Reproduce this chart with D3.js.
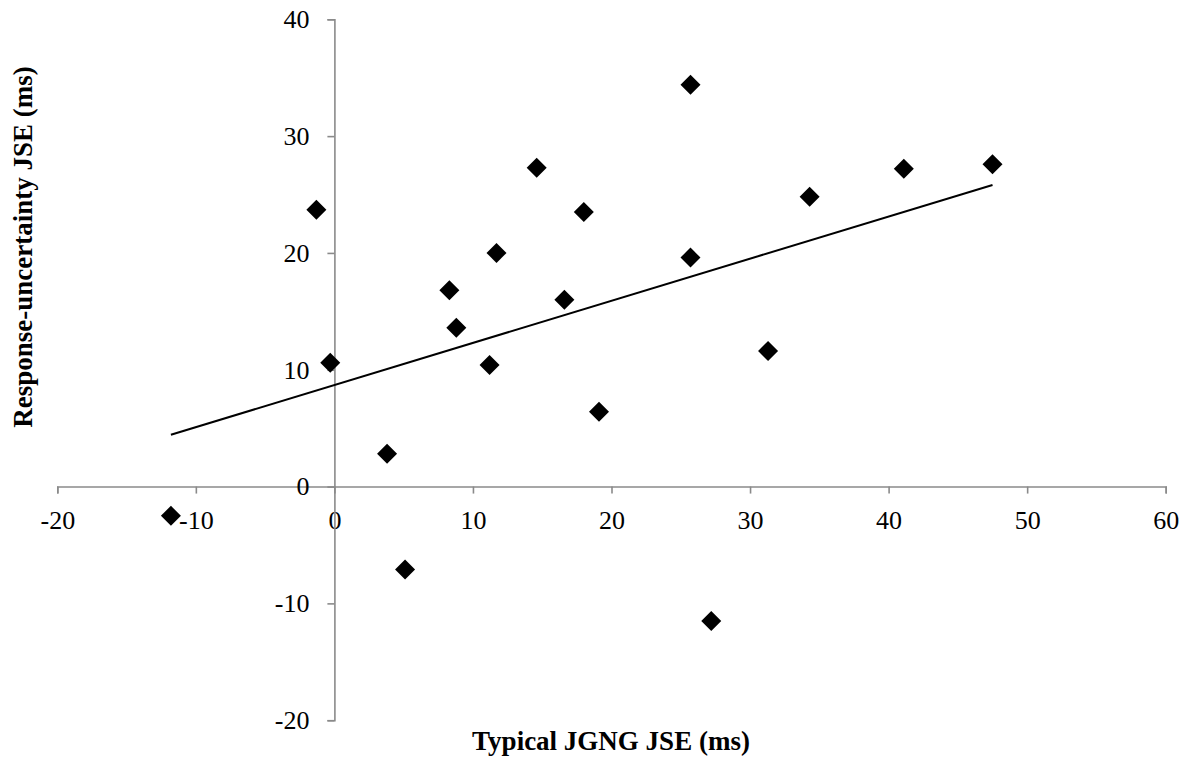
<!DOCTYPE html>
<html lang="en">
<head>
    <meta charset="UTF-8">
    <title>JSE scatter</title>
    <script src="https://d3js.org/d3.v7.min.js"></script>
    <style>
        body { margin: 0; background: #fff; }
        text { font-family: "Liberation Serif", "Times New Roman", serif; }
    </style>
</head>
<body>
    <div id="my_dataviz"></div>

    <script>

        // data
        const typicalJSE = [-11.8, -1.3, -0.3, 3.8, 5.1, 8.3, 8.8, 11.2, 11.7, 14.6,
                            16.6, 18.0, 19.1, 25.7, 25.7, 27.2, 31.3, 34.3, 41.1, 47.5];
        const uncertaintyJSE = [-2.5, 23.7, 10.6, 2.8, -7.1, 16.8, 13.6, 10.4, 20.0, 27.3,
                                16.0, 23.5, 6.4, 34.4, 19.6, -11.5, 11.6, 24.8, 27.2, 27.6];
        const xTicks = [-20, -10, 0, 10, 20, 30, 40, 50, 60];
        const yTicks = [-20, -10, 0, 10, 20, 30, 40];

        const width = 1189, height = 763;
        const axisColor = "#8a8a8a";

        const svg = d3.select("#my_dataviz")
            .append("svg")
            .attr("width", width)
            .attr("height", height);

        const x = d3.scaleLinear().domain([-20, 60]).range([57.3, 1165.7]);
        const y = d3.scaleLinear().domain([-20, 40]).range([720.2, 19.3]);

        // X axis (crosses at y = 0)
        const gx = svg.append("g")
            .attr("transform", `translate(0,${y(0)})`)
            .call(d3.axisBottom(x).tickValues(xTicks).tickSize(7).tickFormat(d => String(d)));

        // Y axis (crosses at x = 0)
        const gy = svg.append("g")
            .attr("transform", `translate(${x(0)},0)`)
            .call(d3.axisLeft(y).tickValues(yTicks).tickSize(7).tickPadding(18).tickFormat(d => String(d)));

        [gx, gy].forEach(g => {
            g.select(".domain").attr("stroke", axisColor).attr("stroke-width", 1.6);
            g.selectAll(".tick line").attr("stroke", axisColor).attr("stroke-width", 1.6);
            g.selectAll(".tick text")
                .attr("fill", "#000")
                .style("font-family", "'Liberation Serif', serif")
                .style("font-size", "26px");
        });
        gx.selectAll(".tick text").attr("y", 42).attr("dy", 0);

        // trend line (least squares fit of the points)
        const n = typicalJSE.length;
        const mx = d3.mean(typicalJSE), my = d3.mean(uncertaintyJSE);
        let sxy = 0, sxx = 0;
        for (let i = 0; i < n; i++) {
            sxy += (typicalJSE[i] - mx) * (uncertaintyJSE[i] - my);
            sxx += (typicalJSE[i] - mx) ** 2;
        }
        const slope = sxy / sxx, icpt = my - slope * mx;
        const x0 = d3.min(typicalJSE), x1 = d3.max(typicalJSE);

        svg.append("line")
            .attr("x1", x(x0)).attr("y1", y(icpt + slope * x0))
            .attr("x2", x(x1)).attr("y2", y(icpt + slope * x1))
            .attr("stroke", "#000")
            .attr("stroke-width", 2);

        // points
        const pts = typicalJSE.map((d, i) => ({x: d, y: uncertaintyJSE[i]}));
        svg.selectAll("mypoint")
            .data(pts)
            .join("path")
                .attr("d", d3.symbol().type(d3.symbolSquare).size(200))
                .attr("transform", d => `translate(${x(d.x)},${y(d.y)}) rotate(45)`)
                .attr("fill", "#000");

        // axis titles
        svg.append("text")
            .attr("x", 611)
            .attr("y", 750)
            .attr("text-anchor", "middle")
            .style("font-weight", "bold")
            .style("font-size", "27px")
            .text("Typical JGNG JSE (ms)");

        svg.append("text")
            .attr("transform", "translate(32,247) rotate(-90)")
            .attr("text-anchor", "middle")
            .style("font-weight", "bold")
            .style("font-size", "27px")
            .text("Response-uncertainty JSE (ms)");

    </script>
</body>
</html>
